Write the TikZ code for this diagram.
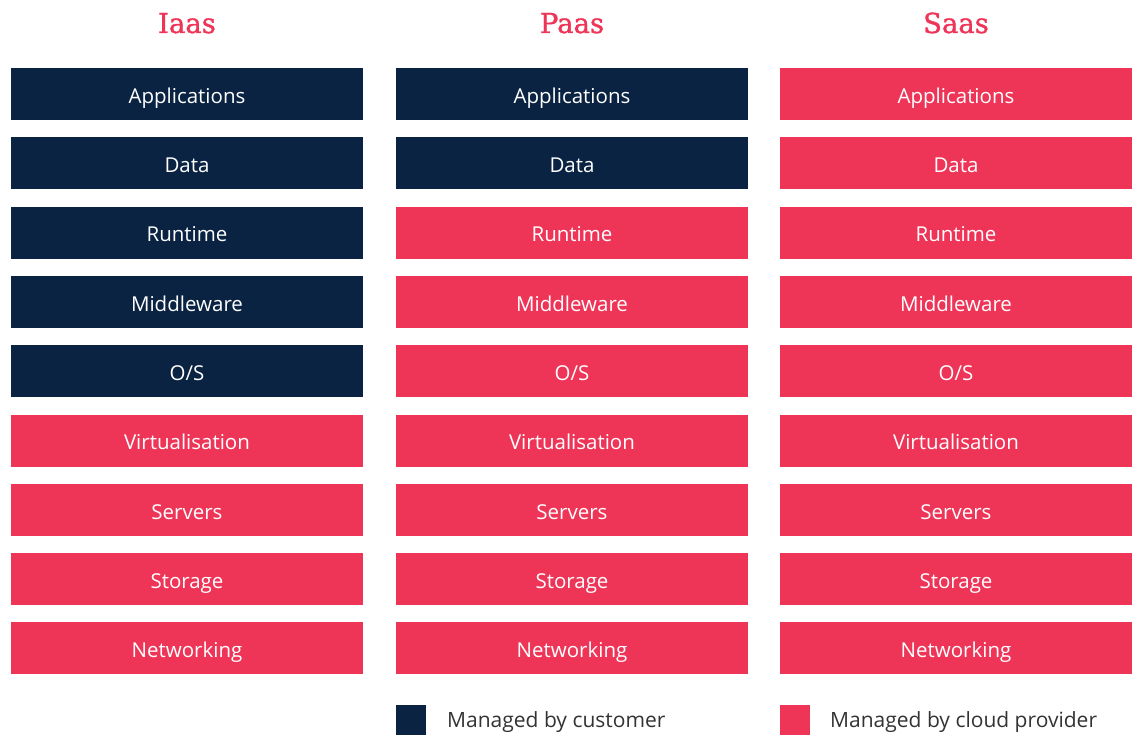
\documentclass[tikz,border=0pt]{standalone}
\usepackage{fontspec}
\setmainfont{Open Sans}
\newfontfamily\headfont[FakeBold=1.2]{DejaVu Serif}
\usetikzlibrary{positioning}

\definecolor{navy}{HTML}{0A2342}
\definecolor{rose}{HTML}{EE3558}
\definecolor{ink}{HTML}{333333}

\tikzset{
  layer/.style={minimum width=352pt, minimum height=52pt, inner sep=0pt,
    text height=18.5pt, text depth=0pt,
    text=white, font=\fontsize{20.5}{25}\selectfont},
  cust/.style={layer, fill=navy},
  prov/.style={layer, fill=rose},
  head/.style={anchor=base, text=rose, inner sep=0pt,
    font=\headfont\fontsize{27.5}{32}\selectfont},
  keybox/.style={minimum size=30pt, inner sep=0pt},
  keytext/.style={anchor=base west, inner sep=0pt, text=ink,
    font=\fontsize{21}{25}\selectfont}
}

\begin{document}
\begin{tikzpicture}[x=1pt, y=-1pt]
    \useasboundingbox (0,0) rectangle (1133,735);

    % Column titles
    \node[head] (iaas) at (187,33) {Iaas};
    \node[head] (paas) at (572,33) {Paas};
    \node[head] (saas) at (956,33) {Saas};

    % Iaas stack
    \node[cust] (i1) at (187,94) {Applications};
    \node[cust] (i2) at (187,163.3) {Data};
    \node[cust] (i3) at (187,232.6) {Runtime};
    \node[cust] (i4) at (187,301.9) {Middleware};
    \node[cust] (i5) at (187,371.2) {O/S};
    \node[prov] (i6) at (187,440.5) {Virtualisation};
    \node[prov] (i7) at (187,509.8) {Servers};
    \node[prov] (i8) at (187,579.1) {Storage};
    \node[prov] (i9) at (187,648.4) {Networking};

    % Paas stack
    \node[cust] (p1) at (572,94) {Applications};
    \node[cust] (p2) at (572,163.3) {Data};
    \node[prov] (p3) at (572,232.6) {Runtime};
    \node[prov] (p4) at (572,301.9) {Middleware};
    \node[prov] (p5) at (572,371.2) {O/S};
    \node[prov] (p6) at (572,440.5) {Virtualisation};
    \node[prov] (p7) at (572,509.8) {Servers};
    \node[prov] (p8) at (572,579.1) {Storage};
    \node[prov] (p9) at (572,648.4) {Networking};

    % Saas stack
    \node[prov] (s1) at (956,94) {Applications};
    \node[prov] (s2) at (956,163.3) {Data};
    \node[prov] (s3) at (956,232.6) {Runtime};
    \node[prov] (s4) at (956,301.9) {Middleware};
    \node[prov] (s5) at (956,371.2) {O/S};
    \node[prov] (s6) at (956,440.5) {Virtualisation};
    \node[prov] (s7) at (956,509.8) {Servers};
    \node[prov] (s8) at (956,579.1) {Storage};
    \node[prov] (s9) at (956,648.4) {Networking};

    % Legend
    \node[keybox, fill=navy] (kcust) at (411,720) {};
    \node[keytext] (lcust) at (447,727) {Managed by customer};
    \node[keybox, fill=rose] (kprov) at (795,720) {};
    \node[keytext] (lprov) at (830,727) {Managed by cloud provider};
\end{tikzpicture}
\end{document}
